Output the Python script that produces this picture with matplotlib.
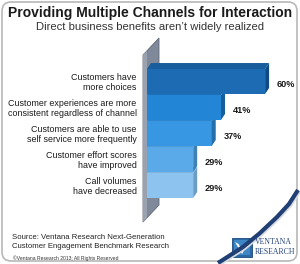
import matplotlib
matplotlib.use("Agg")
import matplotlib.pyplot as plt
from matplotlib.patches import Polygon, FancyBboxPatch, Rectangle

# data
categories = ["Customers have\nmore choices",
              "Customer experiences are more\nconsistent regardless of channel",
              "Customers are able to use\nself service more frequently",
              "Customer effort scores\nhave improved",
              "Call volumes\nhave decreased"]
values = [60, 41, 37, 29, 29]
front_colors = ["#1d6bb3", "#2285d6", "#3797e2", "#5aa9e8", "#8cc3ef"]
side_colors = ["#104a82", "#175f9c", "#2470ad", "#3f80b5", "#6a9cc4"]
top_colors = ["#185d9c", "#1c72b8", "#2f86cc", "#4f9bd6", "#7fb5e0"]

title = "Providing Multiple Channels for Interaction"
subtitle = "Direct business benefits aren\u2019t widely realized"
source = "Source: Ventana Research Next-Generation\nCustomer Engagement Benchmark Research"
copyright_txt = "\u00a9Ventana Research 2013; All Rights Reserved"

plt.rcParams['font.family'] = ['Liberation Sans', 'DejaVu Sans']

fig = plt.figure(figsize=(3.0, 2.64), dpi=100)

# background layer in pixel units
bg = fig.add_axes([0, 0, 1, 1], zorder=0)
bg.set_xlim(0, 300)
bg.set_ylim(264, 0)
bg.axis('off')
bg.add_patch(FancyBboxPatch((2, 2), 295, 259, boxstyle="round,pad=0,rounding_size=9",
                            ec="#b8b8b8", fc="white", lw=1.2))

# swoosh at bottom right
sx = [218, 243, 260, 277, 289, 298]
sy = [263, 247, 233, 217, 204, 190]
bg.plot([x + 2 for x in sx], [y + 2 for y in sy], color="#d8dbe0", lw=1.5, solid_capstyle='butt')
bg.plot(sx, sy, color="#1f3f75", lw=3.0, solid_capstyle='butt')

# gray wall behind the bars
bg.add_patch(Polygon([(143, 55), (159, 38), (159, 205), (143, 222)], closed=True,
                     fc="#7f899a", ec="#5f6877", lw=0.6))
bg.add_patch(Polygon([(143, 55), (147, 51), (147, 218), (143, 222)], closed=True,
                     fc="#9aa2b0", ec="none"))

# logo
bg.add_patch(Rectangle((232, 238), 20, 19, fc="#2b69a6", ec="#1c4a7c", lw=0.6))
bg.add_patch(Rectangle((234, 240), 16, 15, fc="#3e86c4", ec="none"))
bg.add_patch(Polygon([(235, 242), (242, 254), (249, 242), (245.5, 244), (242, 250), (238.5, 244)],
                     closed=True, fc="white", ec="none"))
bg.text(255, 242.5, "VENTANA", family="Liberation Serif", fontsize=5.6, color="#24427a",
        va="center", ha="left")
bg.text(255, 252, "RESEARCH", family="Liberation Serif", fontsize=5.6, color="#24427a",
        va="center", ha="left")

# titles and notes
fig.text(0.5, 1 - 13.5 / 264, title, ha="center", va="center", fontsize=10,
         fontweight="bold", color="#1a1a1a")
fig.text(0.5, 1 - 27 / 264, subtitle, ha="center", va="center", fontsize=8.1, color="#333333")
fig.text(12 / 300, 1 - 242 / 264, source, ha="left", va="center", fontsize=5.6,
         color="#222222", linespacing=1.25)
fig.text(13 / 300, 1 - 258 / 264, copyright_txt, ha="left", va="center", fontsize=3.6,
         color="#333333")

# bar axes: value 0 sits behind the wall, axis starts at 9.1
px_per_unit = 2.32
x_left = 9.1
ax = fig.add_axes([147 / 300, (264 - 198.5) / 264, 145 / 300, 130 / 264], zorder=1)
ax.set_xlim(x_left, x_left + 145 / px_per_unit)
ax.set_ylim(len(values) - 0.5, -0.5)
ax.patch.set_alpha(0)
for s in ax.spines.values():
    s.set_visible(False)
ax.set_xticks([])

h = 0.48
dx = 4 / px_per_unit
dy = 6 / 26
for i, v in enumerate(values):
    z = 10 - i
    ax.barh(i, v, left=0, height=2 * h, color=front_colors[i], zorder=z)
    ax.add_patch(Polygon([(v, i - h), (v + dx, i - h - dy), (v + dx, i + h - dy), (v, i + h)],
                         closed=True, fc=side_colors[i], ec="none", zorder=z, clip_on=False))
    ax.add_patch(Polygon([(x_left, i - h), (x_left + dx, i - h - dy), (v + dx, i - h - dy), (v, i - h)],
                         closed=True, fc=top_colors[i], ec="none", zorder=z, clip_on=False))
    ax.text(v + 5.0, i + 0.1, f"{v}%", fontsize=6.6, fontweight="bold", color="#1a1a1a",
            va="center", ha="left", zorder=20)

ax.set_yticks(range(len(categories)))
ax.set_yticklabels(categories, fontsize=6.4, color="#1a1a1a")
ax.tick_params(left=False, length=0, pad=7.5)
for lab in ax.get_yticklabels():
    lab.set_linespacing(1.0)

fig.savefig("out.png", dpi=100)
